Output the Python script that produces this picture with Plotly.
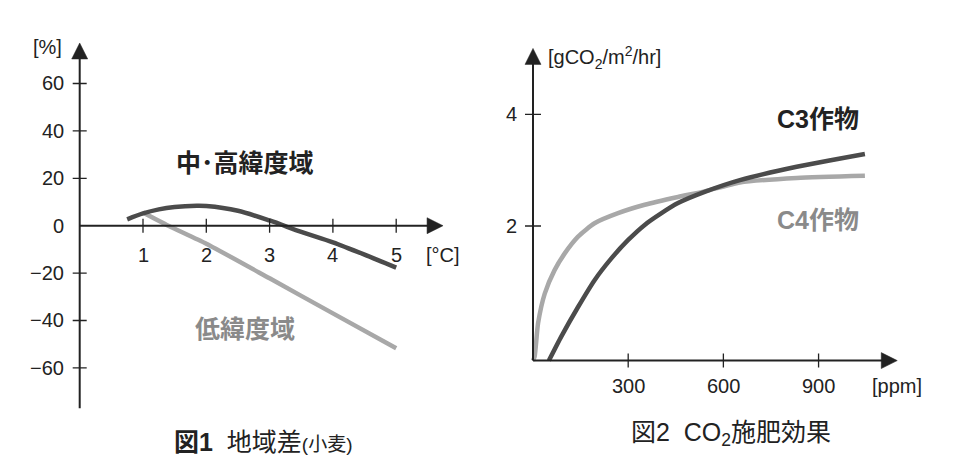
import plotly.graph_objects as go

# ---------------- data ----------------
# Fig.1  yield change [%] vs warming [°C]
temp_high = [0.75, 1.0, 1.25, 1.5, 1.85, 2.0, 2.5, 3.0, 3.5, 4.0, 4.5, 5.0]
yield_high = [2.7, 5.2, 6.9, 7.9, 8.4, 8.3, 6.3, 2.2, -2.6, -7.0, -12.2, -17.7]
temp_low = [1.0, 1.4, 2.0, 3.0, 4.0, 5.0]
yield_low = [5.6, 0.0, -7.6, -22.2, -37.0, -51.7]
x1_ticks = [1, 2, 3, 4, 5]
x1_ticklabels = ["1", "2", "3", "4", "5"]
y1_ticks = [60, 40, 20, 0, -20, -40, -60]
y1_ticklabels = ["60", "40", "20", "0", "−20", "−40", "−60"]

# Fig.2  photosynthesis [gCO2/m2/hr] vs CO2 [ppm]
ppm_c4 = [0, 5, 16, 37, 68, 100, 142, 194, 268, 352, 457, 541, 652, 831, 1046]
rate_c4 = [-0.41, -0.34, 0.26, 0.79, 1.21, 1.51, 1.81, 2.05, 2.23, 2.38, 2.52, 2.62, 2.78, 2.86, 2.90]
ppm_c3 = [50, 89, 142, 194, 247, 300, 352, 405, 457, 541, 652, 831, 1046]
rate_c3 = [-0.41, 0.02, 0.55, 1.03, 1.42, 1.75, 2.02, 2.23, 2.41, 2.61, 2.82, 3.06, 3.29]
x2_ticks = [300, 600, 900]
x2_ticklabels = ["300", "600", "900"]
y2_ticks = [2, 4]
y2_ticklabels = ["2", "4"]

# ---------------- styles ----------------
W, H = 953, 455
FONT = "Liberation Sans, Arial, Noto Sans CJK JP, sans-serif"
AX = "#222222"
DARK = "#4b4b4b"
LIGHT = "#a8a8a8"
LABEL_GRAY = "#8a8a8a"

# axis geometry (data units)
P1_XRANGE = [-1.0, 6.0]
P1_YRANGE = [-80, 80]
P1_YAXIS_BOTTOM = -77
P1_YAXIS_TOP = 77.1
P1_XAXIS_END = 5.74

P2_XRANGE = [-100, 1300]
P2_YRANGE = [-0.8, 5.5]
P2_BASE = -0.41
P2_YAXIS_TOP = 5.18
P2_XAXIS_END = 1148

fig = go.Figure()

fig.add_trace(go.Scatter(x=temp_low, y=yield_low, mode="lines",
                         line=dict(color=LIGHT, width=4.5, shape="spline", smoothing=0.6),
                         xaxis="x", yaxis="y", hoverinfo="skip", showlegend=False))
fig.add_trace(go.Scatter(x=temp_high, y=yield_high, mode="lines",
                         line=dict(color=DARK, width=4.5, shape="spline", smoothing=0.8),
                         xaxis="x", yaxis="y", hoverinfo="skip", showlegend=False))
fig.add_trace(go.Scatter(x=ppm_c4, y=rate_c4, mode="lines",
                         line=dict(color=LIGHT, width=4.5, shape="spline", smoothing=0.6),
                         xaxis="x2", yaxis="y2", hoverinfo="skip", showlegend=False))
fig.add_trace(go.Scatter(x=ppm_c3, y=rate_c3, mode="lines",
                         line=dict(color=DARK, width=4.5, shape="spline", smoothing=0.6),
                         xaxis="x2", yaxis="y2", hoverinfo="skip", showlegend=False))

shapes = []
annotations = []


def axis_line(xref, yref, x0, y0, x1, y1):
    shapes.append(dict(type="line", xref=xref, yref=yref, x0=x0, y0=y0, x1=x1, y1=y1,
                       line=dict(color=AX, width=2), layer="above"))


def arrow_up(xref, yref, x, y):
    shapes.append(dict(type="path", xref=xref, yref=yref, xsizemode="pixel", ysizemode="pixel",
                       xanchor=x, yanchor=y, path="M -8 -16 L 8 -16 L 0 0 Z",
                       fillcolor=AX, line=dict(color=AX, width=0.5), layer="above"))


def arrow_right(xref, yref, x, y):
    shapes.append(dict(type="path", xref=xref, yref=yref, xsizemode="pixel", ysizemode="pixel",
                       xanchor=x, yanchor=y, path="M -16 -8 L -16 8 L 0 0 Z",
                       fillcolor=AX, line=dict(color=AX, width=0.5), layer="above"))


def xtick(xref, yref, x, y, half=7):
    shapes.append(dict(type="line", xref=xref, yref=yref, xsizemode="pixel", ysizemode="pixel",
                       xanchor=x, yanchor=y, x0=0, x1=0, y0=-half, y1=half,
                       line=dict(color=AX, width=1.3), layer="above"))


def ytick(xref, yref, x, y, half=8):
    shapes.append(dict(type="line", xref=xref, yref=yref, xsizemode="pixel", ysizemode="pixel",
                       xanchor=x, yanchor=y, x0=-half, x1=half, y0=0, y1=0,
                       line=dict(color=AX, width=1.3), layer="above"))


def text(x, y, s, size=20, color=AX, xref="paper", yref="paper", xanchor="center",
         yanchor="middle", xshift=0, yshift=0):
    annotations.append(dict(x=x, y=y, xref=xref, yref=yref, text=s, showarrow=False,
                            xanchor=xanchor, yanchor=yanchor, xshift=xshift, yshift=yshift,
                            font=dict(family=FONT, size=size, color=color)))


def px(xp, yp):
    return xp / W, 1 - yp / H


# ---- panel 1 axes ----
axis_line("x", "y", 0, P1_YAXIS_BOTTOM, 0, P1_YAXIS_TOP - 6)
axis_line("x", "y", 0, 0, P1_XAXIS_END - 0.2, 0)
arrow_up("x", "y", 0, P1_YAXIS_TOP)
arrow_right("x", "y", P1_XAXIS_END, 0)
for v, lab in zip(x1_ticks, x1_ticklabels):
    xtick("x", "y", v, 0)
    text(v, 0, lab, xref="x", yref="y", yshift=-29)
for v, lab in zip(y1_ticks, y1_ticklabels):
    if v != 0:
        ytick("x", "y", 0, v, 7)
    text(0, v, lab, xref="x", yref="y", xanchor="right", xshift=-14)

# ---- panel 2 axes ----
axis_line("x2", "y2", 0, P2_BASE, 0, P2_YAXIS_TOP - 0.2)
axis_line("x2", "y2", 0, P2_BASE, P2_XAXIS_END - 40, P2_BASE)
arrow_up("x2", "y2", 0, P2_YAXIS_TOP)
arrow_right("x2", "y2", P2_XAXIS_END, P2_BASE)
for v, lab in zip(x2_ticks, x2_ticklabels):
    xtick("x2", "y2", v, P2_BASE)
    text(v, P2_BASE, lab, xref="x2", yref="y2", yshift=-25)
for v, lab in zip(y2_ticks, y2_ticklabels):
    ytick("x2", "y2", 0, v, 8)
    text(0, v, lab, xref="x2", yref="y2", xanchor="right", xshift=-14)

# ---- unit labels ----
text(*px(47, 47), "[%]")
text(*px(443, 255), "[°C]")
text(*px(546, 57), "[gCO<sub>2</sub>/m<sup>2</sup>/hr]", xanchor="left")
text(*px(897, 386), "[ppm]")

# ---- series labels ----
text(*px(245, 163), "<b>中･高緯度域</b>", size=25, color=AX)
text(*px(245, 329), "<b>低緯度域</b>", size=25, color=LABEL_GRAY)
text(*px(818, 119), "<b>C3作物</b>", size=25, color=AX)
text(*px(818, 220), "<b>C4作物</b>", size=25, color=LABEL_GRAY)

# ---- captions ----
text(*px(263, 442), "<b>図1</b>  地域差<span style='font-size:19px'>(小麦)</span>", size=25)
text(*px(731, 434), "図2  CO<sub>2</sub>施肥効果", size=25)

p1x = [(79.7 - 63.3) / W, (79.7 + 6 * 63.3) / W]
p1y = [1 - (225.7 + 80 * 2.37) / H, 1 - (225.7 - 80 * 2.37) / H]
p2x = [(533 - 100 * 0.3173) / W, (533 + 1300 * 0.3173) / W]
p2y = [1 - (337.7 + 0.8 * 55.85) / H, 1 - (337.7 - 5.5 * 55.85) / H]

hidden = dict(visible=False, showgrid=False, zeroline=False, fixedrange=True)
fig.update_layout(
    width=W, height=H, autosize=False,
    margin=dict(l=0, r=0, t=0, b=0),
    paper_bgcolor="white", plot_bgcolor="rgba(0,0,0,0)",
    font=dict(family=FONT, color=AX),
    xaxis=dict(domain=p1x, range=P1_XRANGE, anchor="y", **hidden),
    yaxis=dict(domain=p1y, range=P1_YRANGE, anchor="x", **hidden),
    xaxis2=dict(domain=p2x, range=P2_XRANGE, anchor="y2", **hidden),
    yaxis2=dict(domain=p2y, range=P2_YRANGE, anchor="x2", **hidden),
    shapes=shapes, annotations=annotations,
    showlegend=False,
)

fig.write_html("out.html", config={"displayModeBar": False},
               post_script="document.body.style.margin='0';document.body.style.overflow='hidden';")
